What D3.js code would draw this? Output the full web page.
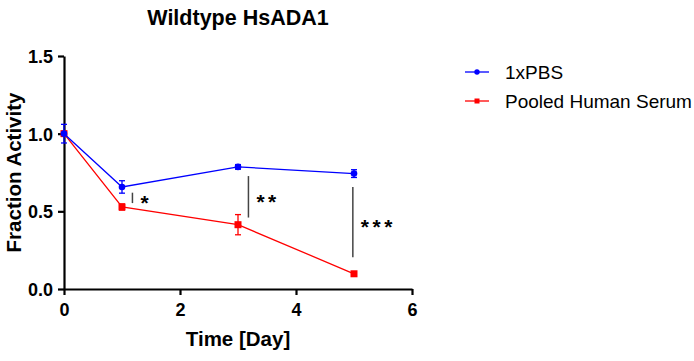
<!DOCTYPE html>
<html>
<head>
<meta charset="utf-8">
<script src="https://cdn.jsdelivr.net/npm/d3@7"></script>
<style>
  body { margin: 0; background: #fff; }
  text { font-family: Arial, "Liberation Sans", sans-serif; }
</style>
</head>
<body>
<div id="chart"></div>
<script>
// data
var days = [0, 1, 3, 5];
var pbsMean = [1.0, 0.657, 0.786, 0.743];
var pbsErr = [0.06, 0.04, 0.015, 0.025];
var serumMean = [1.0, 0.528, 0.414, 0.098];
var serumErr = [0.015, 0.02, 0.065, 0.005];
var sigX = [1.18, 3.18, 4.98];
var sigTop = [0.62, 0.727, 0.657];
var sigBottom = [0.553, 0.46, 0.205];
var sigLabel = ["*", "**", "***"];
var xTicks = [0, 2, 4, 6];
var yTicks = [0, 0.5, 1.0, 1.5];

var svgWidth = 694, svgHeight = 361;
var margin = { top: 56, left: 64, right: 282, bottom: 72 };
var width = svgWidth - margin.left - margin.right;
var height = svgHeight - margin.top - margin.bottom;

var svg = d3.select("#chart").append("svg")
    .attr("width", svgWidth)
    .attr("height", svgHeight);

var chartGroup = svg.append("g")
    .attr("transform", `translate(${margin.left}, ${margin.top})`);

var xScale = d3.scaleLinear().domain([0, 6]).range([0, width]);
var yScale = d3.scaleLinear().domain([0, 1.5]).range([height, 0]);

// axes
var xAxis = d3.axisBottom(xScale).tickValues(xTicks).tickFormat(d3.format("d")).tickSize(6).tickSizeOuter(0);
var yAxis = d3.axisLeft(yScale).tickValues(yTicks).tickFormat(d3.format(".1f")).tickSize(6).tickSizeOuter(0);

var gx = chartGroup.append("g")
    .attr("transform", `translate(0, ${height})`)
    .call(xAxis);
var gy = chartGroup.append("g").call(yAxis);

[gx, gy].forEach(function(g) {
    g.select(".domain").attr("stroke", "#000").attr("stroke-width", 2.2);
    g.selectAll(".tick line").attr("stroke", "#000").attr("stroke-width", 2.2);
    g.selectAll(".tick text")
        .attr("fill", "#000")
        .style("font-size", "18px")
        .style("font-weight", "bold");
});
gx.selectAll(".tick text").attr("y", 14).attr("dy", "0.71em");
gy.selectAll(".tick text").attr("x", -11).attr("dy", "0.36em");

// series
var series = [
    { name: "1xPBS", color: "#0000ff", mean: pbsMean, err: pbsErr, shape: "circle" },
    { name: "Pooled Human Serum", color: "#ff0000", mean: serumMean, err: serumErr, shape: "square" }
];

var line = d3.line()
    .x(function(d) { return xScale(d.x); })
    .y(function(d) { return yScale(d.y); });

series.slice().reverse().forEach(function(s) {
    var pts = days.map(function(d, i) { return { x: d, y: s.mean[i], e: s.err[i] }; });
    var g = chartGroup.append("g");

    g.append("path")
        .datum(pts)
        .attr("d", line)
        .attr("fill", "none")
        .attr("stroke", s.color)
        .attr("stroke-width", 1.3);

    // error bars
    g.selectAll("line.eb")
        .data(pts)
        .join("line")
        .attr("class", "eb")
        .attr("x1", function(d) { return xScale(d.x); })
        .attr("x2", function(d) { return xScale(d.x); })
        .attr("y1", function(d) { return yScale(d.y - d.e); })
        .attr("y2", function(d) { return yScale(d.y + d.e); })
        .attr("stroke", s.color)
        .attr("stroke-width", 1.3);
    ["-", "+"].forEach(function(sign) {
        g.selectAll("line.cap" + (sign === "+" ? "hi" : "lo"))
            .data(pts)
            .join("line")
            .attr("class", "cap" + (sign === "+" ? "hi" : "lo"))
            .attr("x1", function(d) { return xScale(d.x) - 3; })
            .attr("x2", function(d) { return xScale(d.x) + 3; })
            .attr("y1", function(d) { return yScale(sign === "+" ? d.y + d.e : d.y - d.e); })
            .attr("y2", function(d) { return yScale(sign === "+" ? d.y + d.e : d.y - d.e); })
            .attr("stroke", s.color)
            .attr("stroke-width", 1.3);
    });

    if (s.shape === "circle") {
        g.selectAll("circle")
            .data(pts)
            .join("circle")
            .attr("cx", function(d) { return xScale(d.x); })
            .attr("cy", function(d) { return yScale(d.y); })
            .attr("r", 3.3)
            .attr("fill", s.color);
    } else {
        g.selectAll("rect")
            .data(pts)
            .join("rect")
            .attr("x", function(d) { return xScale(d.x) - 3.5; })
            .attr("y", function(d) { return yScale(d.y) - 3.5; })
            .attr("width", 7)
            .attr("height", 7)
            .attr("fill", s.color);
    }
});

// significance marks
sigX.forEach(function(x, i) {
    chartGroup.append("line")
        .attr("x1", xScale(x)).attr("x2", xScale(x))
        .attr("y1", yScale(sigTop[i])).attr("y2", yScale(sigBottom[i]))
        .attr("stroke", "#444")
        .attr("stroke-width", 1.5);
    chartGroup.append("text")
        .attr("x", xScale(x) + 8)
        .attr("y", yScale((sigTop[i] + sigBottom[i]) / 2) + 12)
        .attr("fill", "#000")
        .style("font-size", "21px")
        .style("font-weight", "bold")
        .style("letter-spacing", "3.5px")
        .text(sigLabel[i]);
});

// title and axis labels
svg.append("text")
    .attr("x", margin.left + width / 2)
    .attr("y", 25)
    .attr("text-anchor", "middle")
    .style("font-size", "21.5px")
    .style("font-weight", "bold")
    .text("Wildtype HsADA1");

svg.append("text")
    .attr("transform", "rotate(-90)")
    .attr("x", -(margin.top + height / 2))
    .attr("y", 21)
    .attr("text-anchor", "middle")
    .style("font-size", "20.5px")
    .style("font-weight", "bold")
    .text("Fraction Activity");

svg.append("text")
    .attr("x", margin.left + width / 2)
    .attr("y", 346)
    .attr("text-anchor", "middle")
    .style("font-size", "20.5px")
    .style("font-weight", "bold")
    .text("Time [Day]");

// legend
var legend = svg.append("g").attr("transform", "translate(465, 72)");
series.forEach(function(s, i) {
    var row = legend.append("g").attr("transform", `translate(0, ${i * 29})`);
    row.append("line")
        .attr("x1", 0).attr("x2", 24)
        .attr("stroke", s.color)
        .attr("stroke-width", 1.3);
    if (s.shape === "circle") {
        row.append("circle").attr("cx", 12).attr("r", 2.7).attr("fill", s.color);
    } else {
        row.append("rect").attr("x", 9.5).attr("y", -2.5).attr("width", 5).attr("height", 5).attr("fill", s.color);
    }
    row.append("text")
        .attr("x", 40)
        .attr("y", 6.5)
        .style("font-size", "19px")
        .text(s.name);
});
</script>
</body>
</html>
